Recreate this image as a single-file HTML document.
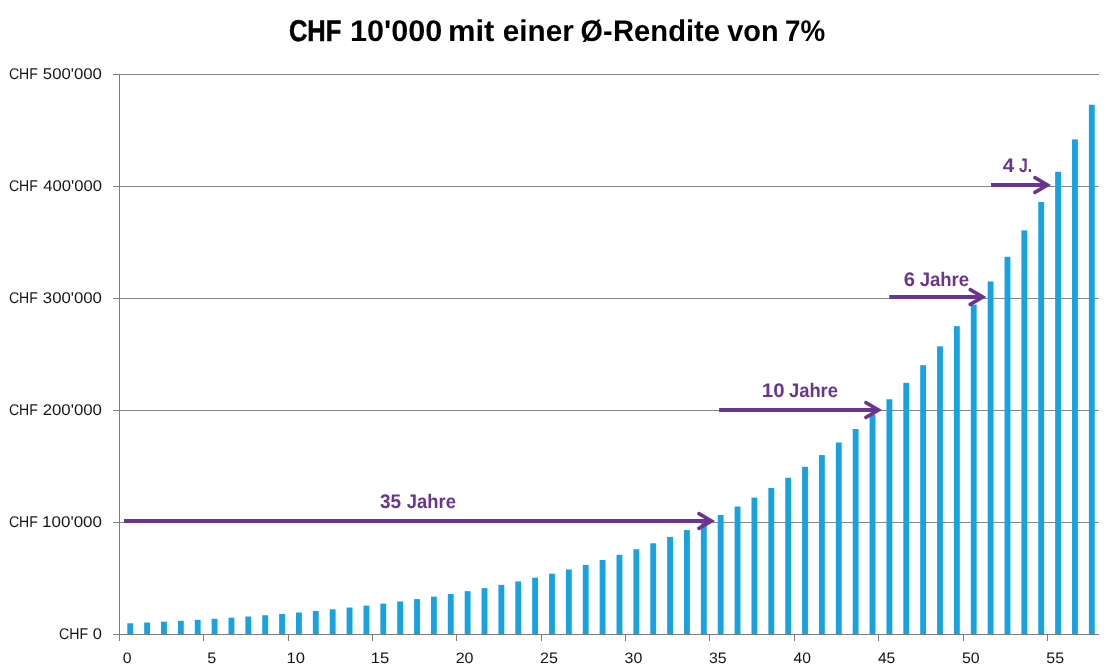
<!DOCTYPE html>
<html lang="de"><head><meta charset="utf-8"><title>CHF 10'000 mit einer Ø-Rendite von 7%</title>
<style>html,body{margin:0;padding:0;background:#fff}body{width:1115px;height:672px;overflow:hidden}svg{display:block}text{font-family:"Liberation Sans",sans-serif;text-rendering:geometricPrecision}</style>
</head><body>
<svg width="1115" height="672" viewBox="0 0 1115 672">
<rect width="1115" height="672" fill="#fff"/>
<g stroke="#868686" stroke-width="1" fill="none">
<line x1="119.50" y1="522.50" x2="1099.00" y2="522.50"/>
<line x1="119.50" y1="410.50" x2="1099.00" y2="410.50"/>
<line x1="119.50" y1="298.50" x2="1099.00" y2="298.50"/>
<line x1="119.50" y1="186.50" x2="1099.00" y2="186.50"/>
<line x1="119.50" y1="74.50" x2="1099.00" y2="74.50"/>
</g>
<g fill="#17A3E1">
<rect x="127.30" y="623.30" width="5.85" height="11.20"/>
<rect x="144.17" y="622.52" width="5.85" height="11.98"/>
<rect x="161.04" y="621.68" width="5.85" height="12.82"/>
<rect x="177.91" y="620.78" width="5.85" height="13.72"/>
<rect x="194.78" y="619.82" width="5.85" height="14.68"/>
<rect x="211.65" y="618.79" width="5.85" height="15.71"/>
<rect x="228.52" y="617.69" width="5.85" height="16.81"/>
<rect x="245.39" y="616.52" width="5.85" height="17.98"/>
<rect x="262.26" y="615.26" width="5.85" height="19.24"/>
<rect x="279.13" y="613.91" width="5.85" height="20.59"/>
<rect x="296.00" y="612.47" width="5.85" height="22.03"/>
<rect x="312.87" y="610.93" width="5.85" height="23.57"/>
<rect x="329.74" y="609.28" width="5.85" height="25.22"/>
<rect x="346.61" y="607.51" width="5.85" height="26.99"/>
<rect x="363.48" y="605.62" width="5.85" height="28.88"/>
<rect x="380.35" y="603.60" width="5.85" height="30.90"/>
<rect x="397.22" y="601.44" width="5.85" height="33.06"/>
<rect x="414.09" y="599.12" width="5.85" height="35.38"/>
<rect x="430.96" y="596.64" width="5.85" height="37.86"/>
<rect x="447.83" y="593.99" width="5.85" height="40.51"/>
<rect x="464.70" y="591.16" width="5.85" height="43.34"/>
<rect x="481.57" y="588.13" width="5.85" height="46.37"/>
<rect x="498.44" y="584.88" width="5.85" height="49.62"/>
<rect x="515.31" y="581.41" width="5.85" height="53.09"/>
<rect x="532.18" y="577.69" width="5.85" height="56.81"/>
<rect x="549.05" y="573.71" width="5.85" height="60.79"/>
<rect x="565.92" y="569.46" width="5.85" height="65.04"/>
<rect x="582.79" y="564.90" width="5.85" height="69.60"/>
<rect x="599.66" y="560.03" width="5.85" height="74.47"/>
<rect x="616.53" y="554.82" width="5.85" height="79.68"/>
<rect x="633.40" y="549.24" width="5.85" height="85.26"/>
<rect x="650.27" y="543.27" width="5.85" height="91.23"/>
<rect x="667.14" y="536.89" width="5.85" height="97.61"/>
<rect x="684.01" y="530.06" width="5.85" height="104.44"/>
<rect x="700.88" y="522.75" width="5.85" height="111.75"/>
<rect x="717.75" y="514.92" width="5.85" height="119.58"/>
<rect x="734.62" y="506.55" width="5.85" height="127.95"/>
<rect x="751.49" y="497.60" width="5.85" height="136.90"/>
<rect x="768.36" y="488.01" width="5.85" height="146.49"/>
<rect x="785.23" y="477.76" width="5.85" height="156.74"/>
<rect x="802.10" y="466.79" width="5.85" height="167.71"/>
<rect x="818.97" y="455.05" width="5.85" height="179.45"/>
<rect x="835.84" y="442.48" width="5.85" height="192.02"/>
<rect x="852.71" y="429.04" width="5.85" height="205.46"/>
<rect x="869.58" y="414.66" width="5.85" height="219.84"/>
<rect x="886.45" y="399.27" width="5.85" height="235.23"/>
<rect x="903.32" y="382.81" width="5.85" height="251.69"/>
<rect x="920.19" y="365.19" width="5.85" height="269.31"/>
<rect x="937.06" y="346.34" width="5.85" height="288.16"/>
<rect x="953.93" y="326.16" width="5.85" height="308.34"/>
<rect x="970.80" y="304.58" width="5.85" height="329.92"/>
<rect x="987.67" y="281.49" width="5.85" height="353.01"/>
<rect x="1004.54" y="256.78" width="5.85" height="377.72"/>
<rect x="1021.41" y="230.34" width="5.85" height="404.16"/>
<rect x="1038.28" y="202.04" width="5.85" height="432.46"/>
<rect x="1055.15" y="171.77" width="5.85" height="462.73"/>
<rect x="1072.02" y="139.38" width="5.85" height="495.12"/>
<rect x="1088.89" y="104.72" width="5.85" height="529.78"/>
</g>
<g stroke="#7b7b7b" stroke-width="1" fill="none">
<line x1="119.50" y1="74.00" x2="119.50" y2="641.00"/>
<line x1="113.00" y1="634.50" x2="1099.00" y2="634.50"/>
<line x1="113.00" y1="522.50" x2="119.50" y2="522.50"/>
<line x1="113.00" y1="410.50" x2="119.50" y2="410.50"/>
<line x1="113.00" y1="298.50" x2="119.50" y2="298.50"/>
<line x1="113.00" y1="186.50" x2="119.50" y2="186.50"/>
<line x1="113.00" y1="74.50" x2="119.50" y2="74.50"/>
<line x1="203.50" y1="634.50" x2="203.50" y2="641.00"/>
<line x1="288.50" y1="634.50" x2="288.50" y2="641.00"/>
<line x1="372.50" y1="634.50" x2="372.50" y2="641.00"/>
<line x1="456.50" y1="634.50" x2="456.50" y2="641.00"/>
<line x1="541.50" y1="634.50" x2="541.50" y2="641.00"/>
<line x1="625.50" y1="634.50" x2="625.50" y2="641.00"/>
<line x1="709.50" y1="634.50" x2="709.50" y2="641.00"/>
<line x1="794.50" y1="634.50" x2="794.50" y2="641.00"/>
<line x1="878.50" y1="634.50" x2="878.50" y2="641.00"/>
<line x1="963.50" y1="634.50" x2="963.50" y2="641.00"/>
<line x1="1047.50" y1="634.50" x2="1047.50" y2="641.00"/>
</g>
<g fill="#141414" font-size="15.5">
<text y="639.00"><tspan x="59.04" textLength="29.06" lengthAdjust="spacingAndGlyphs">CHF</tspan> <tspan x="92.84" textLength="9.15" lengthAdjust="spacingAndGlyphs">0</tspan></text>
<text y="527.00"><tspan x="8.90" textLength="28.90" lengthAdjust="spacingAndGlyphs">CHF</tspan> <tspan x="42.14" textLength="59.80" lengthAdjust="spacingAndGlyphs">100'000</tspan></text>
<text y="415.00"><tspan x="8.90" textLength="28.90" lengthAdjust="spacingAndGlyphs">CHF</tspan> <tspan x="42.66" textLength="59.28" lengthAdjust="spacingAndGlyphs">200'000</tspan></text>
<text y="303.00"><tspan x="8.90" textLength="28.90" lengthAdjust="spacingAndGlyphs">CHF</tspan> <tspan x="42.83" textLength="59.11" lengthAdjust="spacingAndGlyphs">300'000</tspan></text>
<text y="191.00"><tspan x="8.90" textLength="28.90" lengthAdjust="spacingAndGlyphs">CHF</tspan> <tspan x="43.17" textLength="58.77" lengthAdjust="spacingAndGlyphs">400'000</tspan></text>
<text y="79.00"><tspan x="8.90" textLength="28.90" lengthAdjust="spacingAndGlyphs">CHF</tspan> <tspan x="42.83" textLength="59.11" lengthAdjust="spacingAndGlyphs">500'000</tspan></text>
</g>
<g fill="#141414" font-size="15.1">
<text y="663"><tspan x="122.85" textLength="8.81" lengthAdjust="spacingAndGlyphs">0</tspan></text>
<text y="663"><tspan x="207.19" textLength="8.99" lengthAdjust="spacingAndGlyphs">5</tspan></text>
<text y="663"><tspan x="286.46" textLength="18.43" lengthAdjust="spacingAndGlyphs">10</tspan></text>
<text y="663"><tspan x="370.81" textLength="18.43" lengthAdjust="spacingAndGlyphs">15</tspan></text>
<text y="663"><tspan x="455.68" textLength="17.88" lengthAdjust="spacingAndGlyphs">20</tspan></text>
<text y="663"><tspan x="540.03" textLength="17.88" lengthAdjust="spacingAndGlyphs">25</tspan></text>
<text y="663"><tspan x="624.55" textLength="17.71" lengthAdjust="spacingAndGlyphs">30</tspan></text>
<text y="663"><tspan x="708.90" textLength="17.71" lengthAdjust="spacingAndGlyphs">35</tspan></text>
<text y="663"><tspan x="793.57" textLength="17.37" lengthAdjust="spacingAndGlyphs">40</tspan></text>
<text y="663"><tspan x="877.92" textLength="17.37" lengthAdjust="spacingAndGlyphs">45</tspan></text>
<text y="663"><tspan x="961.95" textLength="17.71" lengthAdjust="spacingAndGlyphs">50</tspan></text>
<text y="663"><tspan x="1046.30" textLength="17.71" lengthAdjust="spacingAndGlyphs">55</tspan></text>
</g>
<text y="41" font-size="29.9" font-weight="bold" fill="#000"><tspan stroke="#000" stroke-width="0.6" x="288.98" textLength="52.32" lengthAdjust="spacingAndGlyphs">CHF</tspan> <tspan x="349.96" textLength="92.42" lengthAdjust="spacingAndGlyphs">10'000</tspan> <tspan x="447.93" textLength="46.48" lengthAdjust="spacingAndGlyphs">mit</tspan> <tspan x="502.71" textLength="71.09" lengthAdjust="spacingAndGlyphs">einer</tspan> <tspan x="580.55" textLength="31.93" lengthAdjust="spacingAndGlyphs">Ø-</tspan><tspan x="613.06" textLength="107.02" lengthAdjust="spacingAndGlyphs">Rendite</tspan> <tspan x="727.31" textLength="51.36" lengthAdjust="spacingAndGlyphs">von</tspan> <tspan x="784.99" textLength="40.11" lengthAdjust="spacingAndGlyphs">7%</tspan></text>
<g stroke="#69358F" fill="none">
<line x1="124.0" y1="521.0" x2="711.4" y2="521.0" stroke-width="4"/>
<polyline points="698.9,513.65 711.5,521.00 698.9,528.35" stroke-width="3.6" stroke-linecap="round" stroke-linejoin="miter"/>
<line x1="719.1" y1="410.0" x2="878.4" y2="410.0" stroke-width="4"/>
<polyline points="865.9,402.65 878.5,410.00 865.9,417.35" stroke-width="3.6" stroke-linecap="round" stroke-linejoin="miter"/>
<line x1="889.3" y1="297.0" x2="982.7" y2="297.0" stroke-width="4"/>
<polyline points="970.2,289.65 982.8,297.00 970.2,304.35" stroke-width="3.6" stroke-linecap="round" stroke-linejoin="miter"/>
<line x1="991.0" y1="185.0" x2="1047.4" y2="185.0" stroke-width="4"/>
<polyline points="1034.9,177.65 1047.5,185.00 1034.9,192.35" stroke-width="3.6" stroke-linecap="round" stroke-linejoin="miter"/>
</g>
<g fill="#69358F" font-size="19.6" font-weight="bold">
<text y="508.0"><tspan x="380.03" textLength="21.08" lengthAdjust="spacingAndGlyphs">35</tspan> <tspan x="406.83" textLength="49.08" lengthAdjust="spacingAndGlyphs">Jahre</tspan></text>
<text y="397.0"><tspan x="761.88" textLength="22.69" lengthAdjust="spacingAndGlyphs">10</tspan> <tspan x="788.93" textLength="49.08" lengthAdjust="spacingAndGlyphs">Jahre</tspan></text>
<text y="286.0"><tspan x="903.89" textLength="11.24" lengthAdjust="spacingAndGlyphs">6</tspan> <tspan x="919.63" textLength="49.49" lengthAdjust="spacingAndGlyphs">Jahre</tspan></text>
<text y="172.0"><tspan x="1002.79" textLength="11.44" lengthAdjust="spacingAndGlyphs">4</tspan> <tspan x="1018.98" textLength="13.19" lengthAdjust="spacingAndGlyphs">J.</tspan></text>
</g>
</svg>
</body></html>
